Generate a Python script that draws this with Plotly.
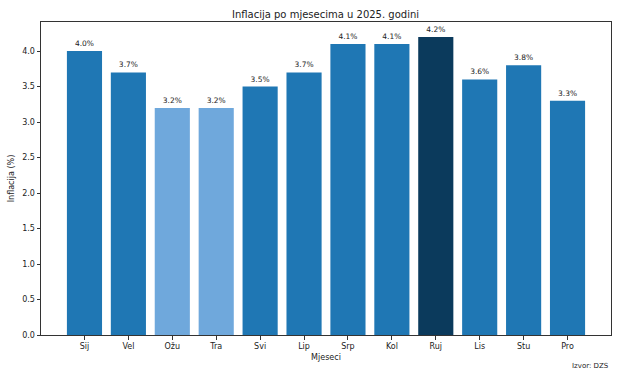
import plotly.graph_objects as go

months = ["Sij", "Vel", "Ožu", "Tra", "Svi", "Lip", "Srp", "Kol", "Ruj", "Lis", "Stu", "Pro"]
inflation = [4.0, 3.7, 3.2, 3.2, 3.5, 3.7, 4.1, 4.1, 4.2, 3.6, 3.8, 3.3]
bar_colors = ["#1f77b4", "#1f77b4", "#6fa8dc", "#6fa8dc", "#1f77b4", "#1f77b4",
              "#1f77b4", "#1f77b4", "#0b3a5c", "#1f77b4", "#1f77b4", "#1f77b4"]
y_ticks = [0.0, 0.5, 1.0, 1.5, 2.0, 2.5, 3.0, 3.5, 4.0]

fig = go.Figure(go.Bar(
    x=list(range(len(months))),
    y=inflation,
    marker=dict(color=bar_colors, line=dict(width=0)),
    width=0.8,
    text=[f"{v:.1f}%" for v in inflation],
    textposition="outside",
    textfont=dict(size=7.5, color="#222"),
    cliponaxis=False,
))

font = "DejaVu Sans, sans-serif"
fig.update_layout(
    width=620, height=372,
    margin=dict(l=41, r=9, t=22, b=37),
    paper_bgcolor="white", plot_bgcolor="white",
    font=dict(family=font, size=8, color="#222"),
    title=dict(text="Inflacija po mjesecima u 2025. godini", x=0.525, xanchor="center",
               y=0.962, yanchor="middle", font=dict(size=10, color="#222")),
    showlegend=False,
    bargap=0.2,
)
fig.update_xaxes(
    range=[-0.99, 11.99], tickmode="array", tickvals=list(range(len(months))), ticktext=months,
    showgrid=False, zeroline=False, showline=True, linecolor="#333", linewidth=1, mirror=True,
    ticks="outside", ticklen=3.5, tickcolor="#333",
    title=dict(text="Mjeseci", font=dict(size=8), standoff=4),
)
fig.update_yaxes(
    range=[0, 4.41], tickmode="array", tickvals=y_ticks, ticktext=[f"{t:.1f}" for t in y_ticks],
    showgrid=False, zeroline=False, showline=True, linecolor="#333", linewidth=1, mirror=True,
    ticks="outside", ticklen=3.5, tickcolor="#333",
    title=dict(text="Inflacija (%)", font=dict(size=8), standoff=6),
)
fig.add_annotation(text="Izvor: DZS", xref="paper", yref="paper", x=1.0, y=-0.098,
                   xanchor="right", yanchor="middle", showarrow=False,
                   font=dict(size=7, color="#222"))

fig.write_html("out.html", config={"displayModeBar": False},
               post_script="document.body.style.margin='0';document.body.style.overflow='hidden';")
